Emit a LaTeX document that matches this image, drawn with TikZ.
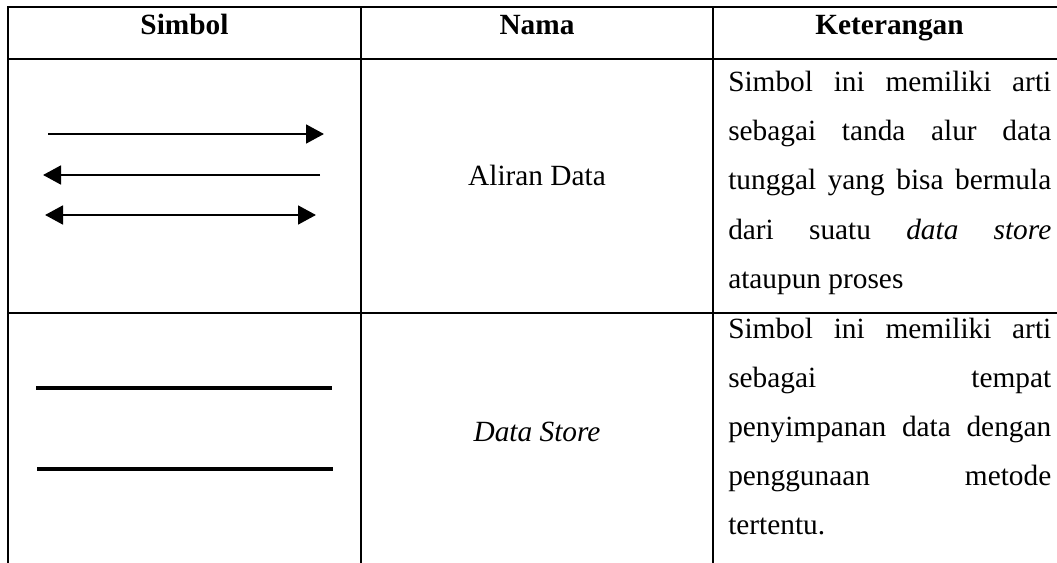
\documentclass[tikz,border=0pt]{standalone}
\usepackage{fontspec}
\setmainfont{Liberation Serif}
\usetikzlibrary{arrows.meta}
\tikzset{
  grid/.style={line width=1.5pt, line cap=rect},
  flow/.style={line width=2.2pt, -{Triangle[length=13.5pt,width=14pt]}},
  flowtwo/.style={line width=2.2pt, {Triangle[length=13.5pt,width=14pt]}-{Triangle[length=13.5pt,width=14pt]}},
  storeline/.style={line width=3pt},
  txt/.style={inner sep=0pt, font=\fontsize{22}{26}\selectfont},
  head/.style={txt, font=\fontsize{22}{26}\selectfont\bfseries, anchor=base},
  cell/.style={txt, anchor=base},
  desc/.style={txt, anchor=base west},
}
\newcommand{\jline}[1]{\makebox[242.25pt][s]{#1}}
\begin{document}
\begin{tikzpicture}[x=0.75pt,y=-0.75pt]
\useasboundingbox (0,0) rectangle (1057,563);
% grid
\draw[grid] (8,7) -- (1060,7);
\draw[grid] (8,59) -- (1060,59);
\draw[grid] (8,313) -- (1060,313);
\draw[grid] (8,7) -- (8,566);
\draw[grid] (361,7) -- (361,566);
\draw[grid] (713,7) -- (713,566);
% header
\node[head] (hsim) at (184.5,35) {Simbol};
\node[head] (hnam) at (537,35) {Nama};
\node[head] (hket) at (889.5,35) {Keterangan};
% row 1 symbol: arrows
\coordinate (a1s) at (48,134);
\coordinate (a1e) at (324,134);
\coordinate (a2s) at (320,175);
\coordinate (a2e) at (43,175);
\coordinate (a3s) at (45,215);
\coordinate (a3e) at (316,215);
\draw[flow] (a1s) -- (a1e);
\draw[flow] (a2s) -- (a2e);
\draw[flowtwo] (a3s) -- (a3e);
\node[cell] (n1) at (537,186) {Aliran Data};
\node[desc] (k1a) at (728,92) {\jline{Simbol ini memiliki arti}};
\node[desc] (k1b) at (728,141) {\jline{sebagai tanda alur data}};
\node[desc] (k1c) at (728,190) {\jline{tunggal yang bisa bermula}};
\node[desc] (k1d) at (728,239) {\jline{dari suatu \textit{data} \textit{store}}};
\node[desc] (k1e) at (728,288) {ataupun proses};
% row 2 symbol: data store
\coordinate (s1s) at (36,388);
\coordinate (s1e) at (332,388);
\coordinate (s2s) at (37,469);
\coordinate (s2e) at (333,469);
\draw[storeline] (s1s) -- (s1e);
\draw[storeline] (s2s) -- (s2e);
\node[cell] (n2) at (537,441) {\textit{Data Store}};
\node[desc] (k2a) at (728,338) {\jline{Simbol ini memiliki arti}};
\node[desc] (k2b) at (728,387) {\jline{sebagai tempat}};
\node[desc] (k2c) at (728,436) {\jline{penyimpanan data dengan}};
\node[desc] (k2d) at (728,485) {\jline{penggunaan metode}};
\node[desc] (k2e) at (728,534) {tertentu.};
\end{tikzpicture}
\end{document}
